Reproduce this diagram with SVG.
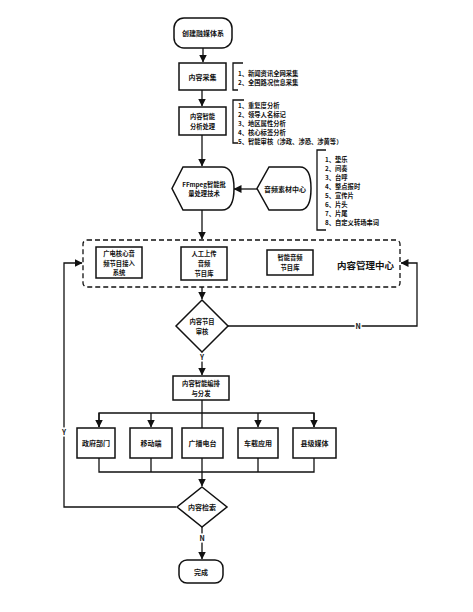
<svg xmlns="http://www.w3.org/2000/svg" width="473" height="612" viewBox="0 0 473 612">
<defs>
<marker id="ah" viewBox="0 0 8 8" refX="7.5" refY="4" markerWidth="8" markerHeight="8" markerUnits="userSpaceOnUse" orient="auto">
<path d="M0,0 L8,4 L0,8 Z" fill="#111"/>
</marker>
</defs>
<style>
text{font-family:"Noto Sans CJK SC","Liberation Sans",sans-serif;font-size:7px;font-weight:bold;fill:#111;dominant-baseline:central}
.c{text-anchor:middle}
.s{font-size:6.3px}
.box{fill:#fff;stroke:#111;stroke-width:1.5}
.ln{fill:none;stroke:#111;stroke-width:1.3}
.br{fill:none;stroke:#111;stroke-width:1.3}
.dash{fill:none;stroke:#111;stroke-width:1.3;stroke-dasharray:5,3}
.lbl{paint-order:stroke;stroke:#fff;stroke-width:3px}
</style>
<rect width="473" height="612" fill="#fff"/>

<g id="connectors">
<path class="ln" d="M203,48 V62" marker-end="url(#ah)"/>
<path class="ln" d="M202,90 V106" marker-end="url(#ah)"/>
<path class="ln" d="M202,135 V166" marker-end="url(#ah)"/>
<path class="ln" d="M257,189 H234" marker-end="url(#ah)"/>
<path class="ln" d="M202,210 V239" marker-end="url(#ah)"/>
<path class="ln" d="M202,287 V299" marker-end="url(#ah)"/>
<path class="ln" d="M228,326 H417 V263 H401" marker-end="url(#ah)"/>
<path class="ln" d="M202,352 V375" marker-end="url(#ah)"/>
<path class="ln" d="M202,400 V428"/>
<path class="ln" d="M99,427 V413 H314 V427"/>
<path class="ln" d="M99,413 V427" marker-end="url(#ah)"/>
<path class="ln" d="M151,413 V427" marker-end="url(#ah)"/>
<path class="ln" d="M258,413 V427" marker-end="url(#ah)"/>
<path class="ln" d="M314,413 V427" marker-end="url(#ah)"/>
<path class="ln" d="M99,458 V472 H314 V458 M151,458 V472 M258,458 V472"/>
<path class="ln" d="M202,458 V486" marker-end="url(#ah)"/>
<path class="ln" d="M176,507 H64 V263 H82" marker-end="url(#ah)"/>
<path class="ln" d="M202,527 V559" marker-end="url(#ah)"/>
<text class="c lbl" x="358" y="326">N</text>
<text class="c lbl" x="202" y="357">Y</text>
<text class="c lbl" x="64" y="432">Y</text>
<text class="c lbl" x="202" y="538">N</text>
</g>

<g id="start">
<rect class="box" x="174" y="18" width="58" height="30" rx="10"/>
<text class="c" x="203" y="33">创建融媒体系</text>
</g>

<g id="collect">
<rect class="box" x="179" y="63" width="47" height="27"/>
<text class="c" x="202.5" y="76.5">内容采集</text>
</g>

<g id="collect-notes">
<path class="br" d="M243,63 H233 V90 H238"/>
<text class="s" x="238" y="73">1、新闻资讯全网采集</text>
<text class="s" x="238" y="82">2、全国路况信息采集</text>
</g>

<g id="analysis">
<rect class="box" x="179" y="107" width="47" height="28"/>
<text class="c s" x="202.5" y="116.5">内容智能</text>
<text class="c s" x="202.5" y="126">分析处理</text>
</g>

<g id="analysis-notes">
<path class="br" d="M244,100 H233 V143 H238"/>
<text class="s" x="238" y="105">1、重复度分析</text>
<text class="s" x="238" y="114">2、领导人名标记</text>
<text class="s" x="238" y="123">3、地区属性分析</text>
<text class="s" x="238" y="132">4、核心标签分析</text>
<text class="s" x="238" y="141">5、智能审核（涉政、涉恐、涉黄等）</text>
</g>

<g id="ffmpeg">
<path class="box" d="M183,167 H222 Q234,167 234,188.5 Q234,210 222,210 H183 L172,188.5 Z"/>
<text class="c s" x="204" y="184">FFmpeg智能批</text>
<text class="c s" x="204" y="193.5">量处理技术</text>
</g>

<g id="audio-center">
<path class="box" d="M269,167 H300 Q311,167 311,188.5 Q311,210 300,210 H269 L257,188.5 Z"/>
<text class="c" x="285" y="189">音频素材中心</text>
</g>

<g id="audio-notes">
<path class="br" d="M326,150 H317 V230 H326"/>
<text class="s" x="325" y="159">1、垫乐</text>
<text class="s" x="325" y="168">2、间奏</text>
<text class="s" x="325" y="177">3、台呼</text>
<text class="s" x="325" y="186">4、整点报时</text>
<text class="s" x="325" y="195">5、宣传片</text>
<text class="s" x="325" y="204">6、片头</text>
<text class="s" x="325" y="213">7、片尾</text>
<text class="s" x="325" y="222">8、自定义转场串词</text>
</g>

<g id="content-center">
<rect class="dash" x="83" y="240" width="317" height="47" rx="4"/>
<text x="337" y="265" style="font-size:9.5px">内容管理中心</text>
</g>

<g id="core-system">
<rect class="box" x="96" y="247" width="46" height="31"/>
<text class="c s" x="119" y="253.5">广电核心音</text>
<text class="c s" x="119" y="263">频节目接入</text>
<text class="c s" x="119" y="272.5">系统</text>
</g>

<g id="manual-upload">
<rect class="box" x="181" y="247" width="46" height="33"/>
<text class="c s" x="204" y="253.5">人工上传</text>
<text class="c s" x="204" y="263">音频</text>
<text class="c s" x="204" y="273">节目库</text>
</g>

<g id="smart-audio">
<rect class="box" x="267" y="250" width="46" height="25"/>
<text class="c s" x="290" y="257.5">智能音频</text>
<text class="c s" x="290" y="267">节目库</text>
</g>

<g id="review">
<path class="box" d="M202,300 L228,326 L202,352 L176,326 Z"/>
<text class="c s" x="202" y="321.5">内容节目</text>
<text class="c s" x="202" y="331">审核</text>
</g>

<g id="distribute">
<rect class="box" x="173" y="376" width="56" height="24"/>
<text class="c s" x="201" y="383.5">内容智能编排</text>
<text class="c s" x="201" y="393">与分发</text>
</g>

<g id="gov">
<rect class="box" x="77" y="428" width="38" height="30"/>
<text class="c" x="96" y="443">政府部门</text>
</g>
<g id="mobile">
<rect class="box" x="130" y="428" width="42" height="30"/>
<text class="c" x="151" y="443">移动端</text>
</g>
<g id="radio">
<rect class="box" x="182" y="428" width="41" height="30"/>
<text class="c" x="202.5" y="443">广播电台</text>
</g>
<g id="car">
<rect class="box" x="238" y="428" width="40" height="30"/>
<text class="c" x="258" y="443">车载应用</text>
</g>
<g id="county">
<rect class="box" x="293" y="428" width="43" height="30"/>
<text class="c" x="314.5" y="443">县级媒体</text>
</g>

<g id="search">
<path class="box" d="M202,487 L227,507 L202,527 L177,507 Z"/>
<text class="c" x="202" y="507">内容检索</text>
</g>

<g id="end">
<rect class="box" x="179" y="560" width="44" height="23" rx="8"/>
<text class="c" x="201" y="571.5">完成</text>
</g>
</svg>
